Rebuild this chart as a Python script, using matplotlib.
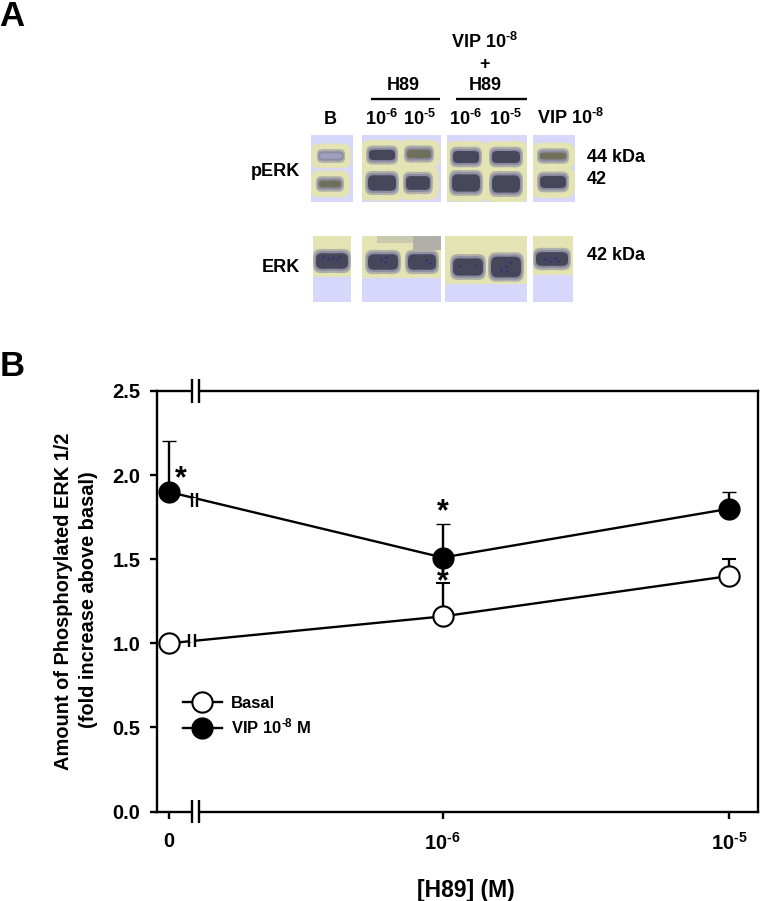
import numpy as np
import matplotlib
matplotlib.use('Agg')
import matplotlib.pyplot as plt
from matplotlib.lines import Line2D
from matplotlib.patches import Rectangle, Polygon

plt.rcParams['font.family'] = ['Liberation Sans', 'DejaVu Sans']
plt.rcParams['font.weight'] = 'bold'
plt.rcParams['mathtext.fontset'] = 'custom'
plt.rcParams['mathtext.bf'] = 'Liberation Sans:bold'
plt.rcParams['mathtext.rm'] = 'Liberation Sans:bold'
plt.rcParams['mathtext.default'] = 'bf'

HY = '\u2010'

# panel B data
dose_labels = ['0', r'$10^{\mathrm{%s6}}$' % HY, r'$10^{\mathrm{%s5}}$' % HY]
dose_pos = [0.0, 1.0, 2.046]
basal = [1.0, 1.16, 1.40]
basal_err = [0.0, 0.20, 0.10]
vip = [1.90, 1.51, 1.80]
vip_err = [0.30, 0.20, 0.10]
y_ticks = [0.0, 0.5, 1.0, 1.5, 2.0, 2.5]

# panel A blot: lanes in picture pixels (x0, x1, y0, y1)
perk_lanes = [(311, 353, 135, 202), (362, 441, 135, 202), (447, 527, 135, 202), (533, 575, 135, 202)]
erk_lanes = [(313, 351, 236, 302), (362, 441, 236, 302), (445, 527, 236, 302), (533, 573, 236, 302)]
erk_yellow_bottom = [277, 278, 284, 275]

# bands: centre x, centre y, half width, half height, strength (1 weak, 2 medium, 3 strong)
perk_x = [331, 330, 382, 382, 419, 418, 466, 466, 506, 506, 553, 553]
perk_y = [156, 184, 155, 183, 154, 183, 157, 183, 157, 184, 156, 182]
perk_w = [14, 14, 16, 17, 15, 15, 16, 17, 17, 17, 16, 16]
perk_h = [8, 9, 11, 14, 10, 13, 12, 15, 12, 15, 9, 12]
perk_s = [1, 2, 3, 3, 2, 3, 3, 3, 3, 3, 2, 3]
erk_x = [332, 383, 422, 468, 506, 552]
erk_y = [261, 262, 262, 267, 267, 259]
erk_w = [19, 18, 17, 18, 18, 19]
erk_h = [14, 14, 14, 15, 17, 13]

# dark blue specks inside the ERK bands
speck_x = [323, 328, 333, 337, 340, 381, 385, 386, 426, 430, 459, 476, 501, 506, 507, 510, 545, 550, 555, 558]
speck_y = [257, 259, 258, 260, 257, 259, 262, 257, 260, 263, 266, 265, 270, 266, 271, 262, 259, 261, 258, 261]

LAVENDER = '#d7d7fb'
YELLOW = '#e3e3b4'
GREY = '#b0b0a8'
BLUEGREY = '#8c8ca2'
OLIVE = '#6f6f5c'
DARK = '#47475c'
LW = 1.7


def band_outline(cx, cy, hw, hh, waist=0.15):
    t = np.linspace(0, 2 * np.pi, 80)
    u = np.sign(np.cos(t)) * np.abs(np.cos(t)) ** 0.55
    v = np.sign(np.sin(t)) * np.abs(np.sin(t)) ** 0.55
    return np.column_stack([cx + hw * u, cy + hh * v * (1 - waist * (1 - u ** 2))])


def draw_band(ax, cx, cy, hw, hh, strength):
    centre = {1: '#a0a0c0', 2: OLIVE, 3: DARK}[strength]
    layers = [(0, 0, GREY), (1.5, 2.5, BLUEGREY), (3, 5, centre)]
    for sw, sh, col in layers:
        ax.add_patch(Polygon(band_outline(cx, cy, hw - sw, hh - sh), fc=col, ec='none', zorder=3))


def draw_break(ax, x0, x1, y, half):
    # white gap and the two bars of an axis break
    ax.plot([x0, x1], [y, y], color='white', lw=3, clip_on=False, zorder=6, solid_capstyle='butt')
    for x in (x0, x1):
        ax.plot([x, x], [y - half, y + half], color='black', lw=LW, clip_on=False, zorder=7, solid_capstyle='butt')


fig = plt.figure(figsize=(7.6, 9.01), dpi=100)

# whole figure axes in pixels, for the blot and its labels
bg = fig.add_axes([0, 0, 1, 1])
bg.set_xlim(0, 760)
bg.set_ylim(901, 0)
bg.axis('off')

for lane in perk_lanes:
    x0, x1, y0, y1 = lane
    rect = Rectangle((x0, y0), x1 - x0, y1 - y0, fc=LAVENDER, ec='none', zorder=1)
    bg.add_patch(rect)
    for i in range(len(perk_x)):
        if x0 <= perk_x[i] <= x1:
            halo = Polygon(band_outline(perk_x[i], perk_y[i], perk_w[i] + 6, perk_h[i] + 6, waist=0.12),
                           fc=YELLOW, ec='none', zorder=2)
            bg.add_patch(halo)
            halo.set_clip_path(rect)
for (x0, x1, y0, y1), yb in zip(erk_lanes, erk_yellow_bottom):
    bg.add_patch(Rectangle((x0, y0), x1 - x0, y1 - y0, fc=LAVENDER, ec='none', zorder=1))
    bg.add_patch(Rectangle((x0, y0), x1 - x0, yb - y0, fc=YELLOW, ec='none', zorder=2))
bg.add_patch(Rectangle((377, 236), 36, 7, fc='#c9c9b0', ec='none', zorder=2))
bg.add_patch(Rectangle((413, 236), 28, 14, fc=GREY, ec='none', zorder=2))

for i in range(len(perk_x)):
    draw_band(bg, perk_x[i], perk_y[i], perk_w[i], perk_h[i], perk_s[i])
for i in range(len(erk_x)):
    draw_band(bg, erk_x[i], erk_y[i], erk_w[i], erk_h[i], 3)
bg.scatter(speck_x, speck_y, s=2, color='#26268c', linewidths=0, zorder=4)

bg.plot([371, 440], [99, 99], color='black', lw=LW, solid_capstyle='butt')
bg.plot([456, 527], [99, 99], color='black', lw=LW, solid_capstyle='butt')

txt = dict(ha='center', va='center', fontsize=13, fontweight='bold')
bg.text(12, 16, 'A', ha='center', va='center', fontsize=25, fontweight='bold')
bg.text(12, 366, 'B', ha='center', va='center', fontsize=25, fontweight='bold')
bg.text(485, 42, r'VIP 10$^{\mathrm{%s8}}$' % HY, **txt)
bg.text(485, 64, '+', **txt)
bg.text(485, 86, 'H89', **txt)
bg.text(403, 86, 'H89', **txt)
bg.text(330, 119, 'B', **txt)
for x, s in zip([382, 420, 466, 506], ['6', '5', '6', '5']):
    bg.text(x, 119, r'10$^{\mathrm{%s%s}}$' % (HY, s), **txt)
bg.text(571, 118, r'VIP 10$^{\mathrm{%s8}}$' % HY, **txt)
bg.text(587, 157, '44 kDa', ha='left', va='center', fontsize=13)
bg.text(587, 179, '42', ha='left', va='center', fontsize=13)
bg.text(587, 256, '42 kDa', ha='left', va='center', fontsize=13)
bg.text(300, 172, 'pERK', ha='right', va='center', fontsize=13)
bg.text(300, 267, 'ERK', ha='right', va='center', fontsize=13)
bg.text(64, 601, 'Amount of Phosphorylated ERK 1/2', rotation=90, ha='center', va='center', fontsize=14.4)
bg.text(89, 600, '(fold increase above basal)', rotation=90, ha='center', va='center', fontsize=14.4)
bg.text(466, 891, '[H89] (M)', ha='center', va='center', fontsize=16.5)

# panel B
ax = fig.add_axes([157 / 760, 1 - 811.5 / 901, (758.3 - 157) / 760, (811.5 - 391) / 901])
ax.patch.set_alpha(0)
ax.set_xlim(-0.0427, 2.152)
ax.set_ylim(0, 2.5)

ax.errorbar(dose_pos, basal, yerr=[np.zeros(3), basal_err], color='black', lw=LW, capsize=5, capthick=LW,
            elinewidth=LW, marker='o', ms=14.6, mfc='white', mec='black', mew=1.5, clip_on=False, zorder=4)
ax.errorbar(dose_pos, vip, yerr=[np.zeros(3), vip_err], color='black', lw=LW, capsize=5, capthick=LW,
            elinewidth=LW, marker='o', ms=15, mfc='black', mec='black', mew=1, clip_on=False, zorder=4)

draw_break(ax, 0.084, 0.110, 0.0, 0.071)
draw_break(ax, 0.084, 0.110, 2.5, 0.071)
draw_break(ax, 0.084, 0.103, 1.852, 0.04)
draw_break(ax, 0.075, 0.096, 1.018, 0.04)

ax.text(0.043, 1.975, '*', ha='center', va='center', fontsize=22)
ax.text(1.0, 1.778, '*', ha='center', va='center', fontsize=22)
ax.text(1.0, 1.36, '*', ha='center', va='center', fontsize=22, zorder=8)

ax.set_xticks(dose_pos)
ax.set_xticklabels(dose_labels, fontsize=14.5, fontweight='bold')
ax.set_yticks(y_ticks)
ax.set_yticklabels(['%.1f' % v for v in y_ticks], fontsize=14.5, fontweight='bold')
ax.tick_params(axis='both', width=LW, length=5)
ax.tick_params(axis='x', pad=10)
ax.tick_params(axis='y', pad=7)
for side in ax.spines.values():
    side.set_linewidth(LW)

handles = [Line2D([], [], color='black', lw=LW, marker='o', ms=14.6, mfc='white', mec='black', mew=1.5),
           Line2D([], [], color='black', lw=LW, marker='o', ms=15, mfc='black', mec='black', mew=1)]
ax.legend(handles, ['Basal', r'VIP 10$^{\mathrm{%s8}}$ M' % HY], loc='lower left',
          bbox_to_anchor=(25.7 / 601, 75 / 420), frameon=False, fontsize=12, handlelength=2.34,
          handletextpad=0.54, labelspacing=0.35, borderpad=0, borderaxespad=0)

fig.savefig('out.png', dpi=100)
